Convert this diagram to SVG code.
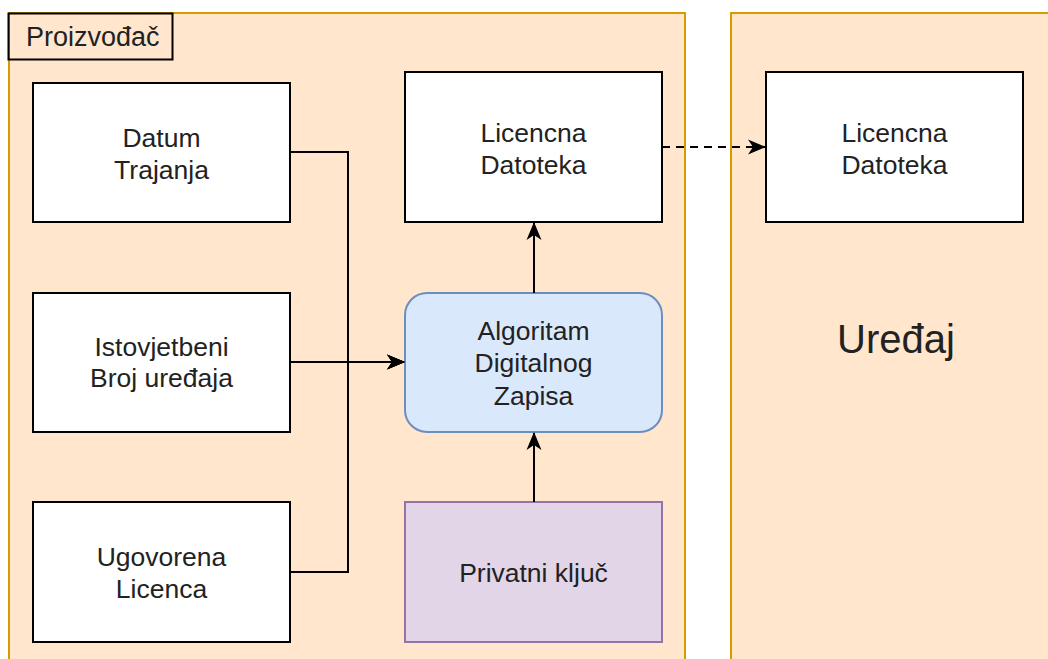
<svg xmlns="http://www.w3.org/2000/svg" width="1048" height="659" viewBox="0 0 1048 659">
<style>
.cont{fill:#ffe6cc;stroke:#d79b00;stroke-width:2}
.box{fill:#ffffff;stroke:#000000;stroke-width:2}
.alg{fill:#dae8fc;stroke:#6c8ebf;stroke-width:2}
.key{fill:#e1d5e7;stroke:#9673a6;stroke-width:2}
text{font-family:"Liberation Sans",Arial,sans-serif;font-size:26.5px;fill:#222222;text-anchor:middle}
.edge{fill:none;stroke:#000000;stroke-width:2}
</style>
<defs>
<marker id="arr" markerWidth="18" markerHeight="18" viewBox="0 0 18 18" refX="17" refY="9" orient="auto" markerUnits="userSpaceOnUse">
<path d="M0,1.5 L18,9 L0,16.5 L5,9 Z" fill="#000000"/>
</marker>
</defs>
<rect width="1048" height="659" fill="#ffffff"/>
<g id="proizvodac">
<rect class="cont" x="9" y="13" width="676" height="660"/>
<rect x="8.5" y="13.5" width="164" height="46" fill="none" stroke="#000000" stroke-width="2"/>
<text x="26" y="46" style="text-anchor:start;font-size:27px">Proizvođač</text>
</g>
<g id="uredaj">
<rect class="cont" x="731" y="13" width="330" height="660"/>
<text x="896" y="353" style="font-size:40px">Uređaj</text>
</g>
<g id="datum">
<rect class="box" x="33" y="83" width="257" height="139"/>
<text x="161.5" y="147">Datum</text>
<text x="161.5" y="179">Trajanja</text>
</g>
<g id="istovjetbeni">
<rect class="box" x="33" y="293" width="257" height="139"/>
<text x="161.5" y="356">Istovjetbeni</text>
<text x="161.5" y="387">Broj uređaja</text>
</g>
<g id="ugovorena">
<rect class="box" x="33" y="502" width="257" height="140"/>
<text x="161.5" y="566">Ugovorena</text>
<text x="161.5" y="598">Licenca</text>
</g>
<g id="licencna1">
<rect class="box" x="405" y="72" width="257" height="150"/>
<text x="533.5" y="142">Licencna</text>
<text x="533.5" y="174">Datoteka</text>
</g>
<g id="algoritam">
<rect class="alg" x="405" y="293" width="257" height="139" rx="22" ry="22"/>
<text x="533.5" y="340">Algoritam</text>
<text x="533.5" y="372">Digitalnog</text>
<text x="533.5" y="405">Zapisa</text>
</g>
<g id="privatni">
<rect class="key" x="405" y="502" width="257" height="140"/>
<text x="533.5" y="582">Privatni ključ</text>
</g>
<g id="licencna2">
<rect class="box" x="766" y="72" width="257" height="150"/>
<text x="894.5" y="142">Licencna</text>
<text x="894.5" y="174">Datoteka</text>
</g>
<g id="connectors">
<polyline class="edge" points="290,152 348,152 348,362 404,362" marker-end="url(#arr)"/>
<polyline class="edge" points="290,362 404,362" marker-end="url(#arr)"/>
<polyline class="edge" points="290,572 348,572 348,362 404,362" marker-end="url(#arr)"/>
<line class="edge" x1="534" y1="293" x2="534" y2="223" marker-end="url(#arr)"/>
<line class="edge" x1="534" y1="502" x2="534" y2="433" marker-end="url(#arr)"/>
<line class="edge" x1="662" y1="147" x2="765" y2="147" stroke-dasharray="8,6" marker-end="url(#arr)"/>
</g>
</svg>
